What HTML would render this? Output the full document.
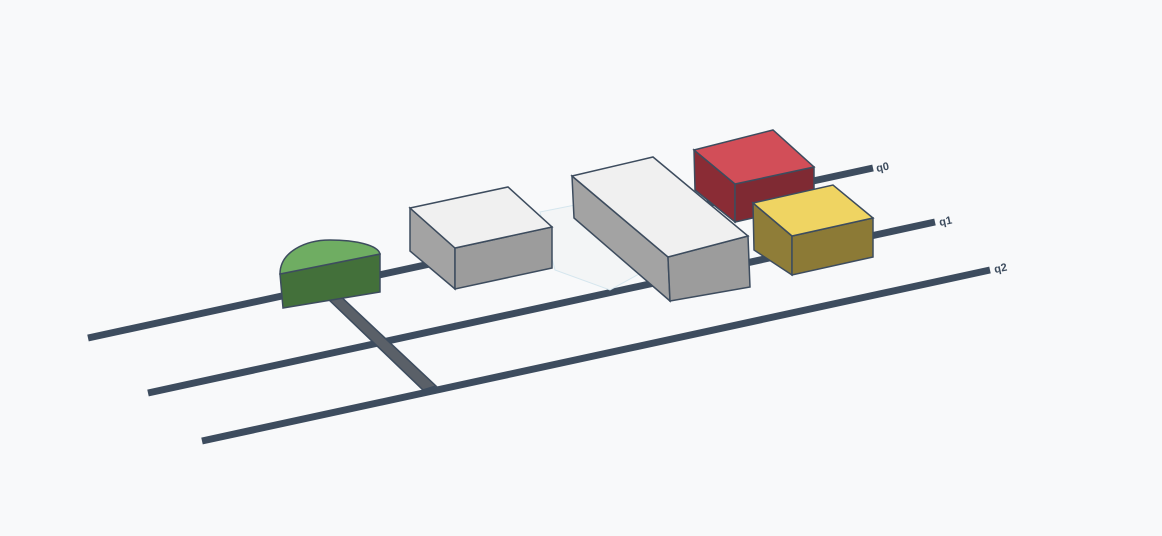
<!DOCTYPE html>
<html><head><meta charset="utf-8"><style>
html,body{margin:0;padding:0;background:#f8f9fa;}
svg{display:block}
</style></head><body>
<svg width="1162" height="536" viewBox="0 0 1162 536" xmlns="http://www.w3.org/2000/svg">
<rect width="1162" height="536" fill="#f8f9fa"/>
<g stroke="#3d4c5e" stroke-width="7" stroke-linecap="butt">
<line x1="88" y1="338" x2="873" y2="168"/>
<line x1="148" y1="393" x2="935" y2="222"/>
<line x1="202" y1="441" x2="990" y2="270"/>
</g>
<polygon points="325,296 337,293 436,386 423,390" fill="#5a6068" stroke="#3d4c5e" stroke-width="1.5"/>
<!-- faint ghost -->
<polygon points="540,212 600,200 668,258 610,290 555,270" fill="#f3f5f6" stroke="#d5e6ee" stroke-width="1"/>
<!-- green dome -->
<path d="M280,274 L380,254 L380,292 L283,308 Z" fill="#43703a" stroke="#3d4c5e" stroke-width="1.5"/>
<path d="M280,274 C280,252 305,240 330,240 C355,240 378,245 380,254 Z" fill="#6fad62" stroke="#3d4c5e" stroke-width="1.5"/>
<!-- box 1 -->
<polygon points="410,208 455,248 455,289 410,251" fill="#a3a3a3" stroke="#3d4c5e" stroke-width="1.5"/>
<polygon points="455,248 552,227 552,268 455,289" fill="#9c9c9c" stroke="#3d4c5e" stroke-width="1.5"/>
<polygon points="410,208 508,187 552,227 455,248" fill="#f0f0f0" stroke="#3d4c5e" stroke-width="1.5"/>
<!-- box 2 -->
<polygon points="572,176 668,257 670,301 574,218" fill="#a3a3a3" stroke="#3d4c5e" stroke-width="1.5"/>
<polygon points="668,257 748,236 750,287 670,301" fill="#9c9c9c" stroke="#3d4c5e" stroke-width="1.5"/>
<polygon points="572,176 653,157 748,236 668,257" fill="#f0f0f0" stroke="#3d4c5e" stroke-width="1.5"/>
<!-- red -->
<polygon points="694,150 735,184 735,222 695,190" fill="#8a2c35" stroke="#3d4c5e" stroke-width="1.5"/>
<polygon points="735,184 814,167 814,204 735,222" fill="#7f2a33" stroke="#3d4c5e" stroke-width="1.5"/>
<polygon points="694,150 773,130 814,167 735,184" fill="#d24e58" stroke="#3d4c5e" stroke-width="1.5"/>
<!-- yellow -->
<polygon points="753,203 792,236 792,275 754,250" fill="#8f7d38" stroke="#3d4c5e" stroke-width="1.5"/>
<polygon points="792,236 873,218 873,257 792,275" fill="#8c7a36" stroke="#3d4c5e" stroke-width="1.5"/>
<polygon points="753,203 833,185 873,218 792,236" fill="#efd462" stroke="#3d4c5e" stroke-width="1.5"/>
<g font-family="Liberation Sans, sans-serif" font-weight="bold" font-size="11" fill="#3d4c5e">
<text x="877" y="172" transform="rotate(-12 877 172)">q0</text>
<text x="940" y="226" transform="rotate(-12 940 226)">q1</text>
<text x="995" y="273" transform="rotate(-12 995 273)">q2</text>
</g>
</svg>
</body></html>
